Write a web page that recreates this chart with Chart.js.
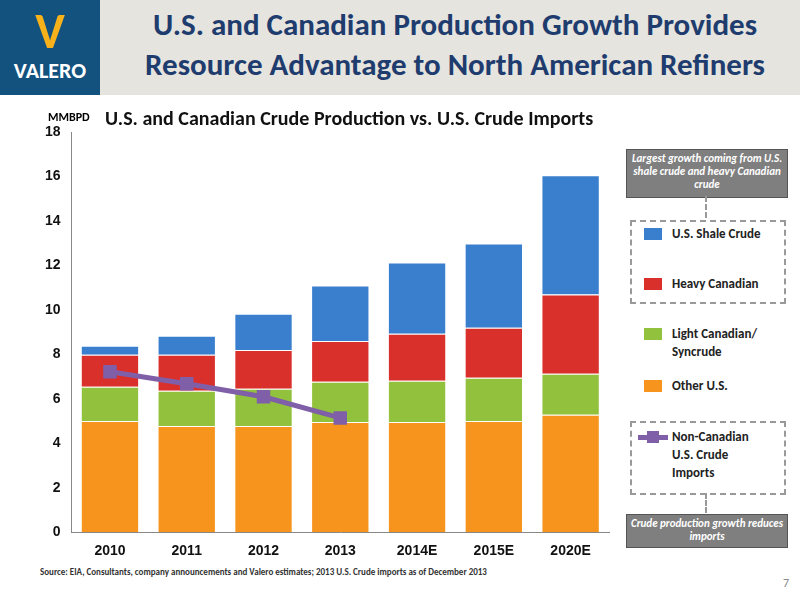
<!DOCTYPE html>
<html><head><meta charset="utf-8">
<script src="https://cdn.jsdelivr.net/npm/chart.js@4/dist/chart.umd.min.js"></script>
<style>
body{margin:0;width:800px;height:600px;background:#fff;font-family:Calibri,"Liberation Sans","Open Sans",sans-serif;position:relative;overflow:hidden}
#hdr{position:absolute;left:0;top:0;width:800px;height:95px;background:#e6e4df}
#logo{position:absolute;left:0;top:0;width:100px;height:95px;background:#13527f;color:#fff;font-weight:bold;font-size:22px;text-align:center}
#title{position:absolute;left:110px;top:4px;width:690px;text-align:center;color:#1f3c6e;font-weight:bold;font-size:31px;line-height:40px}
#wrap{position:absolute;left:30px;top:101px;width:590px;height:462px}
.box{position:absolute;background:#7f7f7f;color:#fff;font-style:italic;font-weight:bold;font-size:11px;text-align:center;line-height:13px;border:1px solid #555}
.dash{position:absolute;border:2px dashed #999}
.li{position:absolute;font-size:13px;font-weight:bold;color:#222;line-height:18px}
.sw{position:absolute;width:18px;height:12px}
#src{position:absolute;left:40px;top:566px;font-size:9px;font-weight:bold;color:#333}
</style></head><body>
<div id="hdr"></div>
<div id="logo"><div style="font-size:50px;line-height:58px;color:#f7b21b;margin-top:2px">V</div><div style="line-height:22px">VALERO</div></div>
<div id="title">U.S. and Canadian Production Growth Provides<br>Resource Advantage to North American Refiners</div>
<div id="wrap"><canvas id="c"></canvas></div>
<div style="position:absolute;left:105px;top:106px;font-size:20px;font-weight:bold;color:#111">U.S. and Canadian Crude Production vs. U.S. Crude Imports</div>
<div class="box" style="left:626px;top:149px;width:160px;height:45px;padding-top:2px">Largest growth coming from U.S. shale crude and heavy Canadian crude</div>
<div class="dash" style="left:705px;top:196px;width:0;height:22px;border-width:0 0 0 2px"></div>
<div class="dash" style="left:630px;top:220px;width:152px;height:80px"></div>
<div class="sw" style="left:644px;top:228px;background:#3a7fce"></div><div class="li" style="left:672px;top:225px">U.S. Shale Crude</div>
<div class="sw" style="left:644px;top:278px;background:#d9302c"></div><div class="li" style="left:672px;top:275px">Heavy Canadian</div>
<div class="sw" style="left:644px;top:328px;background:#92c13d"></div><div class="li" style="left:672px;top:325px">Light Canadian/<br>Syncrude</div>
<div class="sw" style="left:644px;top:380px;background:#f7941d"></div><div class="li" style="left:672px;top:377px">Other U.S.</div>
<div class="dash" style="left:630px;top:421px;width:152px;height:70px"></div>
<div style="position:absolute;left:638px;top:435px;width:30px;height:5px;background:#7f5fa8"></div>
<div style="position:absolute;left:647px;top:431px;width:12px;height:12px;background:#7f5fa8"></div>
<div class="li" style="left:672px;top:428px">Non-Canadian<br>U.S. Crude<br>Imports</div>
<div class="dash" style="left:705px;top:493px;width:0;height:20px;border-width:0 0 0 2px"></div>
<div class="box" style="left:626px;top:514px;width:160px;height:30px;padding-top:2px">Crude production growth reduces imports</div>
<div id="src">Source: EIA, Consultants, company announcements and Valero estimates; 2013 U.S. Crude imports as of December 2013</div>
<div style="position:absolute;left:783px;top:576px;font-size:12px;color:#888">7</div>
<script>
const categories=["2010","2011","2012","2013","2014E","2015E","2020E"];
const otherUS=[5.0,4.78,4.78,4.96,4.96,5.0,5.28];
const lightCanadian=[1.54,1.58,1.67,1.81,1.85,1.95,1.85];
const heavyCanadian=[1.44,1.62,1.75,1.83,2.12,2.25,3.56];
const usShale=[0.41,0.86,1.63,2.5,3.2,3.79,5.37];
const imports=[7.22,6.68,6.09,5.14,null,null,null];
new Chart(document.getElementById('c'),{
data:{labels:categories,datasets:[
{type:'line',label:'Non-Canadian U.S. Crude Imports',data:imports,borderColor:'#7f5fa8',backgroundColor:'#7f5fa8',borderWidth:5,pointStyle:'rect',pointRadius:6,order:0},
{type:'bar',label:'Other U.S.',data:otherUS,backgroundColor:'#f7941d',borderColor:'#fff',borderWidth:1,order:1},
{type:'bar',label:'Light Canadian/Syncrude',data:lightCanadian,backgroundColor:'#92c13d',borderColor:'#fff',borderWidth:1,order:1},
{type:'bar',label:'Heavy Canadian',data:heavyCanadian,backgroundColor:'#d9302c',borderColor:'#fff',borderWidth:1,order:1},
{type:'bar',label:'U.S. Shale Crude',data:usShale,backgroundColor:'#3a7fce',borderColor:'#fff',borderWidth:1,order:1}]},
options:{responsive:true,maintainAspectRatio:false,animation:false,
layout:{padding:{top:31,right:10,left:12}},
datasets:{bar:{barPercentage:0.76,categoryPercentage:1}},
plugins:{legend:{display:false},title:{display:false}},
scales:{x:{stacked:true,grid:{display:false},border:{color:'#888'},ticks:{color:'#111',font:{size:14,weight:'bold'}}},
y:{stacked:true,min:0,max:18,ticks:{stepSize:2,color:'#111',font:{size:14,weight:'bold'}},grid:{display:false},border:{color:'#888'}}}}});
</script>
<div style="position:absolute;left:48px;top:110px;font-size:12px;font-weight:bold">MMBPD</div>
</body></html>
